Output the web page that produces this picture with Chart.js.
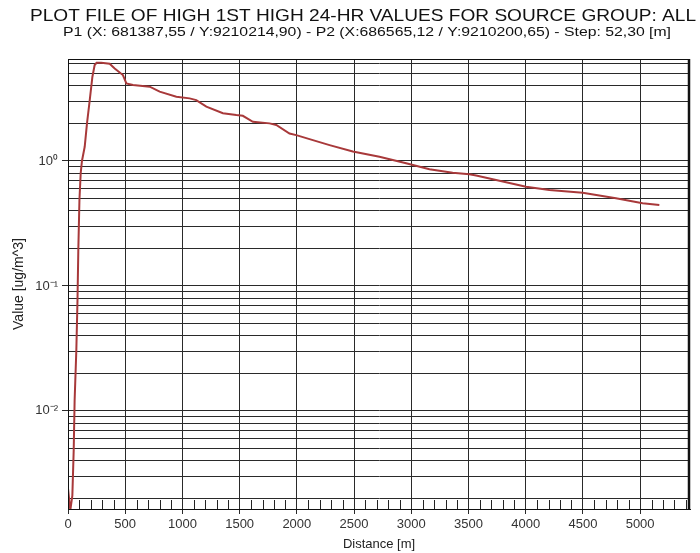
<!DOCTYPE html>
<html><head><meta charset="utf-8">
<script src="https://cdn.jsdelivr.net/npm/chart.js@4/dist/chart.umd.min.js"></script>
<style>html,body{margin:0;padding:0;background:#fff;overflow:hidden}</style>
</head><body>
<canvas id="c" width="700" height="553"></canvas>
<script>
// ---- texts ----
const titleText = "PLOT FILE OF HIGH 1ST HIGH 24-HR VALUES FOR SOURCE GROUP: ALL";
const subtitleText = "P1 (X: 681387,55 / Y:9210214,90) - P2 (X:686565,12 / Y:9210200,65) - Step: 52,30 [m]";
const xAxisTitle = "Distance [m]";
const yAxisTitle = "Value [ug/m^3]";

// ---- data (distance [m], value [ug/m^3]) ----
const distances = [0, 20, 38, 50, 58, 73, 83, 90, 100, 111, 122, 146, 166, 190, 213, 233, 250, 290, 364, 408, 480, 510, 568, 714, 801, 947, 1063, 1121, 1209, 1354, 1471, 1528, 1616, 1762, 1820, 1936, 1995, 2140, 2286, 2489, 2722, 2955, 3159, 3362, 3508, 3567, 4003, 4207, 4498, 4789, 5022, 5168];
const values = [0.0024, 0.0016, 0.0021, 0.0049, 0.0122, 0.031, 0.077, 0.19, 0.49, 0.8, 1.0, 1.3, 2.0, 3.07, 4.7, 5.86, 6.1, 6.1, 6.0, 5.5, 4.87, 4.18, 4.06, 3.93, 3.59, 3.27, 3.17, 3.07, 2.72, 2.41, 2.33, 2.30, 2.06, 2.0, 1.94, 1.66, 1.61, 1.47, 1.34, 1.19, 1.08, 0.958, 0.858, 0.806, 0.783, 0.765, 0.623, 0.586, 0.557, 0.503, 0.459, 0.445];

// ---- ticks ----
const xTickValues = [0, 500, 1000, 1500, 2000, 2500, 3000, 3500, 4000, 4500, 5000];
const xMinorTickStep = 100;
const yMajorValues = [0.01, 0.1, 1];
const yMajorLabels = ["10\u207B\u00B2", "10\u207B\u00B9", "10\u2070"];
const yMinorValues = [0.002, 0.003, 0.004, 0.005, 0.006, 0.007, 0.008, 0.009,
                      0.02, 0.03, 0.04, 0.05, 0.06, 0.07, 0.08, 0.09,
                      0.2, 0.3, 0.4, 0.5, 0.6, 0.7, 0.8, 0.9,
                      2, 3, 4, 5, 6];
const xRange = [0, 5436];
const yRange = [0.00164, 6.55];

const points = distances.map((d, i) => ({x: d, y: values[i]}));
const yTicksAll = yMajorValues.concat(yMinorValues).sort((a, b) => a - b);
const FONT = '"Liberation Sans", Arial, sans-serif';

function fitText(ctx, text, cx, baseline, width, size) {
  ctx.save();
  ctx.font = size + 'px ' + FONT;
  const w = ctx.measureText(text).width;
  ctx.translate(cx, baseline);
  ctx.scale(width / w, 1);
  ctx.textAlign = 'center';
  ctx.textBaseline = 'alphabetic';
  ctx.fillStyle = '#111';
  ctx.fillText(text, 0, 0);
  ctx.restore();
}

const decor = {
  id: 'decor',
  afterDraw(chart) {
    const ctx = chart.ctx;
    const a = chart.chartArea;
    const xs = chart.scales.x;
    // titles
    fitText(ctx, titleText, 363, 21, 666, 17);
    fitText(ctx, subtitleText, 367, 36, 608, 12);
    // minor inner x ticks
    ctx.save();
    ctx.strokeStyle = '#222';
    ctx.lineWidth = 1;
    ctx.beginPath();
    for (let v = xMinorTickStep; v < xRange[1]; v += xMinorTickStep) {
      if (v % 500 === 0) continue;
      const px = Math.round(xs.getPixelForValue(v)) + 0.5;
      ctx.moveTo(px, a.bottom);
      ctx.lineTo(px, a.bottom - 9);
    }
    ctx.stroke();
    // frame
    ctx.strokeStyle = '#111';
    ctx.lineWidth = 1;
    ctx.strokeRect(Math.round(a.left) + 0.5, Math.round(a.top) + 0.5, Math.round(a.right - a.left) - 1, Math.round(a.bottom - a.top));
    ctx.lineWidth = 2.5;
    ctx.beginPath();
    ctx.moveTo(a.right - 1, a.top);
    ctx.lineTo(a.right - 1, a.bottom + 1);
    ctx.stroke();
    ctx.restore();
  }
};

new Chart(document.getElementById('c'), {
  type: 'line',
  data: {
    datasets: [{
      data: points,
      borderColor: '#a8393a',
      borderWidth: 2,
      pointRadius: 0,
      tension: 0,
      fill: false
    }]
  },
  options: {
    responsive: false,
    animation: false,
    devicePixelRatio: 1,
    layout: {padding: {top: 59, right: 10, left: 0, bottom: 0}},
    plugins: {legend: {display: false}, tooltip: {enabled: false}},
    scales: {
      x: {
        type: 'linear',
        min: xRange[0], max: xRange[1],
        afterFit(s) { s.height = 44; },
        afterBuildTicks(s) { s.ticks = xTickValues.map(v => ({value: v})); },
        ticks: {
          autoSkip: false, maxRotation: 0, padding: 3,
          color: '#333', font: {family: FONT, size: 13},
          callback: (v) => String(v)
        },
        grid: {color: '#2a2a2a', lineWidth: 1, tickLength: 5, tickColor: '#2a2a2a'},
        border: {display: true, color: '#111', width: 1},
        title: {display: true, text: xAxisTitle, color: '#222', font: {family: FONT, size: 13}, padding: {top: 0, bottom: 1}}
      },
      y: {
        type: 'logarithmic',
        min: yRange[0], max: yRange[1],
        afterFit(s) { s.width = 68; },
        afterBuildTicks(s) { s.ticks = yTicksAll.map(v => ({value: v, major: yMajorValues.includes(v)})); },
        ticks: {
          autoSkip: false, padding: 4,
          color: '#333', font: {family: FONT, size: 13},
          callback: (v) => { const i = yMajorValues.indexOf(v); return i >= 0 ? yMajorLabels[i] : ''; }
        },
        grid: {
          color: '#2a2a2a', lineWidth: 1, tickLength: 6,
          tickColor: (c) => (c.tick && yMajorValues.includes(c.tick.value)) ? '#2a2a2a' : 'rgba(0,0,0,0)'
        },
        border: {display: true, color: '#111', width: 1},
        title: {display: true, text: yAxisTitle, color: '#222', font: {family: FONT, size: 14}, padding: {top: 11, bottom: 0}}
      }
    }
  },
  plugins: [decor]
});
</script>
</body></html>
